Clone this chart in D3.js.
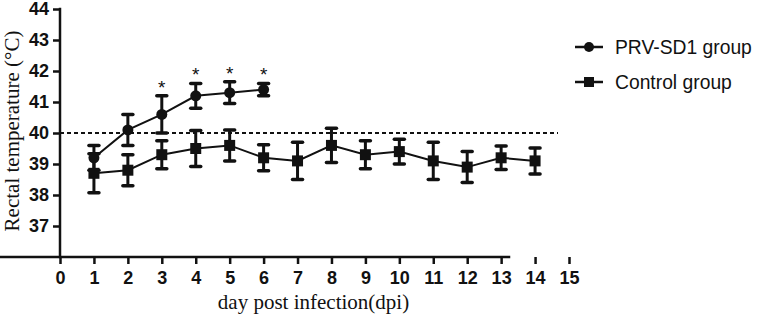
<!DOCTYPE html>
<html><head><meta charset="utf-8">
<script src="https://cdn.jsdelivr.net/npm/d3@7/dist/d3.min.js"></script>
<style>body{margin:0;background:#fff}svg{display:block}</style>
</head><body><div id="chart"></div>
<script>
const prvDays = [1,2,3,4,5,6];
const prvMean = [39.2,40.1,40.6,41.2,41.3,41.4];
const prvErr  = [0.4,0.5,0.6,0.4,0.35,0.2];
const prvSig  = [false,false,true,true,true,true];
const ctlDays = [1,2,3,4,5,6,7,8,9,10,11,12,13,14];
const ctlMean = [38.7,38.8,39.3,39.5,39.6,39.2,39.1,39.6,39.3,39.4,39.1,38.9,39.2,39.1];
const ctlErr  = [0.63,0.5,0.45,0.58,0.5,0.42,0.6,0.55,0.45,0.4,0.6,0.5,0.38,0.42];
const xTicks = [0,1,2,3,4,5,6,7,8,9,10,11,12,13,14,15];
const yTicks = [37,38,39,40,41,42,43,44];
const threshold = 40;
const seriesNames = ["PRV-SD1 group","Control group"];

const W=765,H=318;
const svg=d3.select("#chart").append("svg").attr("width",W).attr("height",H);
svg.append("rect").attr("width",W).attr("height",H).attr("fill","#fff");
const x=d3.scaleLinear().domain([0,15]).range([60,569]);
const y=d3.scaleLinear().domain([36,44]).range([257,9]);

// axes
const xa=svg.append("g").attr("transform","translate(0,257)")
  .call(d3.axisBottom(x).tickValues(xTicks).tickSize(7).tickPadding(7).tickFormat(d3.format("d")));
const ya=svg.append("g").attr("transform","translate(60,0)")
  .call(d3.axisLeft(y).tickValues(yTicks).tickSize(7).tickPadding(4).tickFormat(d3.format("d")));
[xa,ya].forEach(g=>{
  g.select(".domain").attr("stroke","#111").attr("stroke-width",2.5).attr("stroke-linecap","square");
  g.selectAll(".tick line").attr("stroke","#111").attr("stroke-width",2.5);
  g.selectAll(".tick text").attr("fill","#111").style("font-family","'Liberation Sans',Arial,sans-serif")
   .style("font-size","18px").style("font-weight","bold");
});
ya.select(".domain").attr("d","M0,257V9");
xa.select(".domain").attr("d","M0,0H509");

// dashed threshold
svg.append("line").attr("x1",x(0)).attr("x2",558).attr("y1",y(threshold)).attr("y2",y(threshold))
  .attr("stroke","#111").attr("stroke-width",2).attr("stroke-dasharray","4,3");

function drawSeries(days,mean,err,shape){
  const g=svg.append("g");
  const data=days.map((d,i)=>({d,m:mean[i],e:err[i]}));
  g.append("path").datum(data).attr("fill","none").attr("stroke","#111").attr("stroke-width",2)
    .attr("d",d3.line().x(p=>x(p.d)).y(p=>y(p.m)));
  data.forEach(p=>{
    const cx=x(p.d);
    g.append("line").attr("x1",cx).attr("x2",cx).attr("y1",y(p.m-p.e)).attr("y2",y(p.m+p.e))
      .attr("stroke","#111").attr("stroke-width",3);
    [p.m-p.e,p.m+p.e].forEach(v=>g.append("line").attr("x1",cx-5).attr("x2",cx+5)
      .attr("y1",y(v)).attr("y2",y(v)).attr("stroke","#111").attr("stroke-width",3.5).attr("stroke-linecap","round"));
    if(shape==="circle") g.append("circle").attr("cx",cx).attr("cy",y(p.m)).attr("r",5.5).attr("fill","#111");
    else g.append("rect").attr("x",cx-5.5).attr("y",y(p.m)-5.5).attr("width",11).attr("height",11).attr("fill","#111");
  });
  return data;
}
drawSeries(ctlDays,ctlMean,ctlErr,"square");
const prv=drawSeries(prvDays,prvMean,prvErr,"circle");
prv.forEach((p,i)=>{ if(prvSig[i]) svg.append("text").attr("x",x(p.d)).attr("y",y(p.m+p.e)-2)
  .attr("text-anchor","middle").style("font-family","'Liberation Sans',Arial,sans-serif").style("font-size","19px")
  .attr("fill","#111").text("*"); });

// axis titles
svg.append("text").attr("x",(x(0)+x(15))/2-1).attr("y",309).attr("text-anchor","middle")
  .style("font-family","'Liberation Serif','Times New Roman',serif").style("font-size","21px").attr("fill","#111")
  .text("day post infection(dpi)");
svg.append("text").attr("transform","translate(19,131) rotate(-90)").attr("text-anchor","middle")
  .style("font-family","'Liberation Serif','Times New Roman',serif").style("font-size","21px").attr("fill","#111")
  .text("Rectal temperature (°C)");

// legend
const lg=svg.append("g");
[47,82].forEach((ly,i)=>{
  lg.append("line").attr("x1",575).attr("x2",603).attr("y1",ly).attr("y2",ly).attr("stroke","#111").attr("stroke-width",2.5);
  if(i===0) lg.append("circle").attr("cx",589).attr("cy",ly).attr("r",5).attr("fill","#111");
  else lg.append("rect").attr("x",584).attr("y",ly-5).attr("width",10).attr("height",10).attr("fill","#111");
  lg.append("text").attr("x",615).attr("y",ly+7).style("font-family","'Liberation Sans',Arial,sans-serif")
    .style("font-size","19.3px").attr("fill","#111").text(seriesNames[i]);
});
</script></body></html>
